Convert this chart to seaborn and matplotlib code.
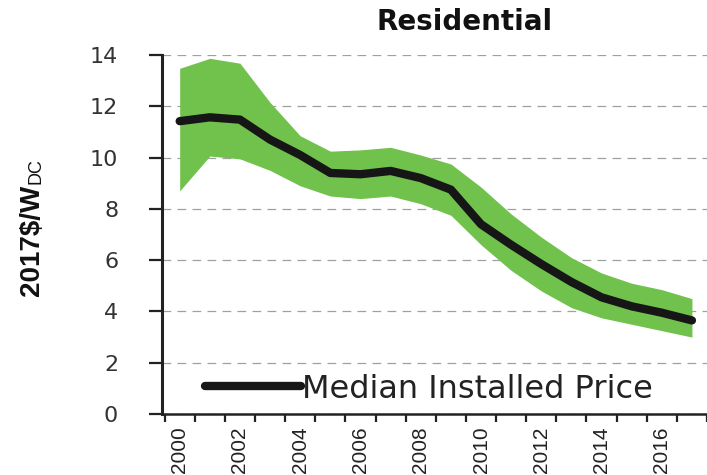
import matplotlib
matplotlib.use("Agg")
import matplotlib.pyplot as plt
import seaborn as sns
import pandas as pd

# ---- data ----
years = list(range(2000, 2018))
median_price = [11.42, 11.57, 11.48, 10.70, 10.10, 9.40, 9.35, 9.48, 9.20,
                8.75, 7.40, 6.60, 5.85, 5.15, 4.55, 4.20, 3.95, 3.65]
upper_band = [13.48, 13.87, 13.68, 12.15, 10.85, 10.25, 10.30, 10.40, 10.10,
              9.75, 8.85, 7.80, 6.90, 6.10, 5.50, 5.10, 4.85, 4.50]
lower_band = [8.70, 10.06, 9.95, 9.50, 8.90, 8.50, 8.40, 8.50, 8.20,
              7.75, 6.60, 5.60, 4.80, 4.15, 3.75, 3.50, 3.25, 3.00]
y_ticks = [0, 2, 4, 6, 8, 10, 12, 14]
x_label_years = [2000, 2002, 2004, 2006, 2008, 2010, 2012, 2014, 2016]
series_label = "Median Installed Price"
title = "Residential"
y_label_main = "2017$/W"
y_label_sub = "DC"

sns.set_theme(style="white")
plt.rcParams["font.family"] = ["Liberation Sans", "DejaVu Sans"]

df = pd.DataFrame({"year": years, "median": median_price,
                   "upper": upper_band, "lower": lower_band})

fig = plt.figure(figsize=(7.07, 4.75), dpi=100)
ax = fig.add_axes([0.229, 0.1284, 0.771, 0.7558])

ax.fill_between(df["year"], df["lower"], df["upper"], color="#70c24c",
                lw=0, zorder=2)
sns.lineplot(data=df, x="year", y="median", color="#161616", lw=6, ax=ax,
             label=series_label, zorder=3)

ax.set_xlim(1999.41, 2017.28)
ax.set_ylim(0, 14)

ax.set_yticks(y_ticks)
ax.set_yticklabels([str(v) for v in y_ticks], fontsize=16, color="#333333",
                   family="DejaVu Sans")
ax.set_xticks(x_label_years)
ax.set_xticklabels([str(v) for v in x_label_years], rotation=90, fontsize=15,
                   color="#222222")
ax.set_xticks([y - 0.5 for y in years] + [2017.5], minor=True)
ax.tick_params(axis="x", which="major", length=0, pad=9)
ax.tick_params(axis="x", which="minor", length=6, width=1.6,
               direction="out", color="#222222", bottom=True)
ax.tick_params(axis="y", length=9.5, width=1.6, direction="out",
               color="#222222", pad=22, left=True)

ax.set_xlabel("")
ax.set_ylabel("")
ax.yaxis.grid(True, linestyle=(0, (7, 5)), color="#a0a0a0", lw=0.9)
ax.xaxis.grid(False)
ax.set_axisbelow(True)

for s in ("top", "right"):
    ax.spines[s].set_visible(False)
ax.spines["left"].set_linewidth(2.2)
ax.spines["left"].set_color("#222222")
ax.spines["bottom"].set_linewidth(1.8)
ax.spines["bottom"].set_color("#222222")

leg = ax.legend(loc="center left", bbox_to_anchor=(205 / 707, 1 - 389 / 475),
                bbox_transform=fig.transFigure, frameon=False,
                prop={"family": "DejaVu Sans", "size": 23},
                handlelength=3.0, handletextpad=0.05, borderpad=0,
                borderaxespad=0)
for t in leg.get_texts():
    t.set_color("#222222")

fig.text(465 / 707, 1 - 22.5 / 475, title, ha="center", va="center",
         fontsize=20, fontweight="bold", family="DejaVu Sans", color="#111111")

main = fig.text(32 / 707, 1 - 240 / 475, y_label_main, rotation=90,
                ha="center", va="center", fontsize=20, fontweight="bold",
                color="#111111")
fig.text(0, 0, "", alpha=0)
ax.annotate(y_label_sub, xy=(1.0, 1.0), xycoords=main, rotation=90,
            ha="right", va="bottom", fontsize=13, color="#111111",
            annotation_clip=False)

fig.savefig("out.png", dpi=100)
